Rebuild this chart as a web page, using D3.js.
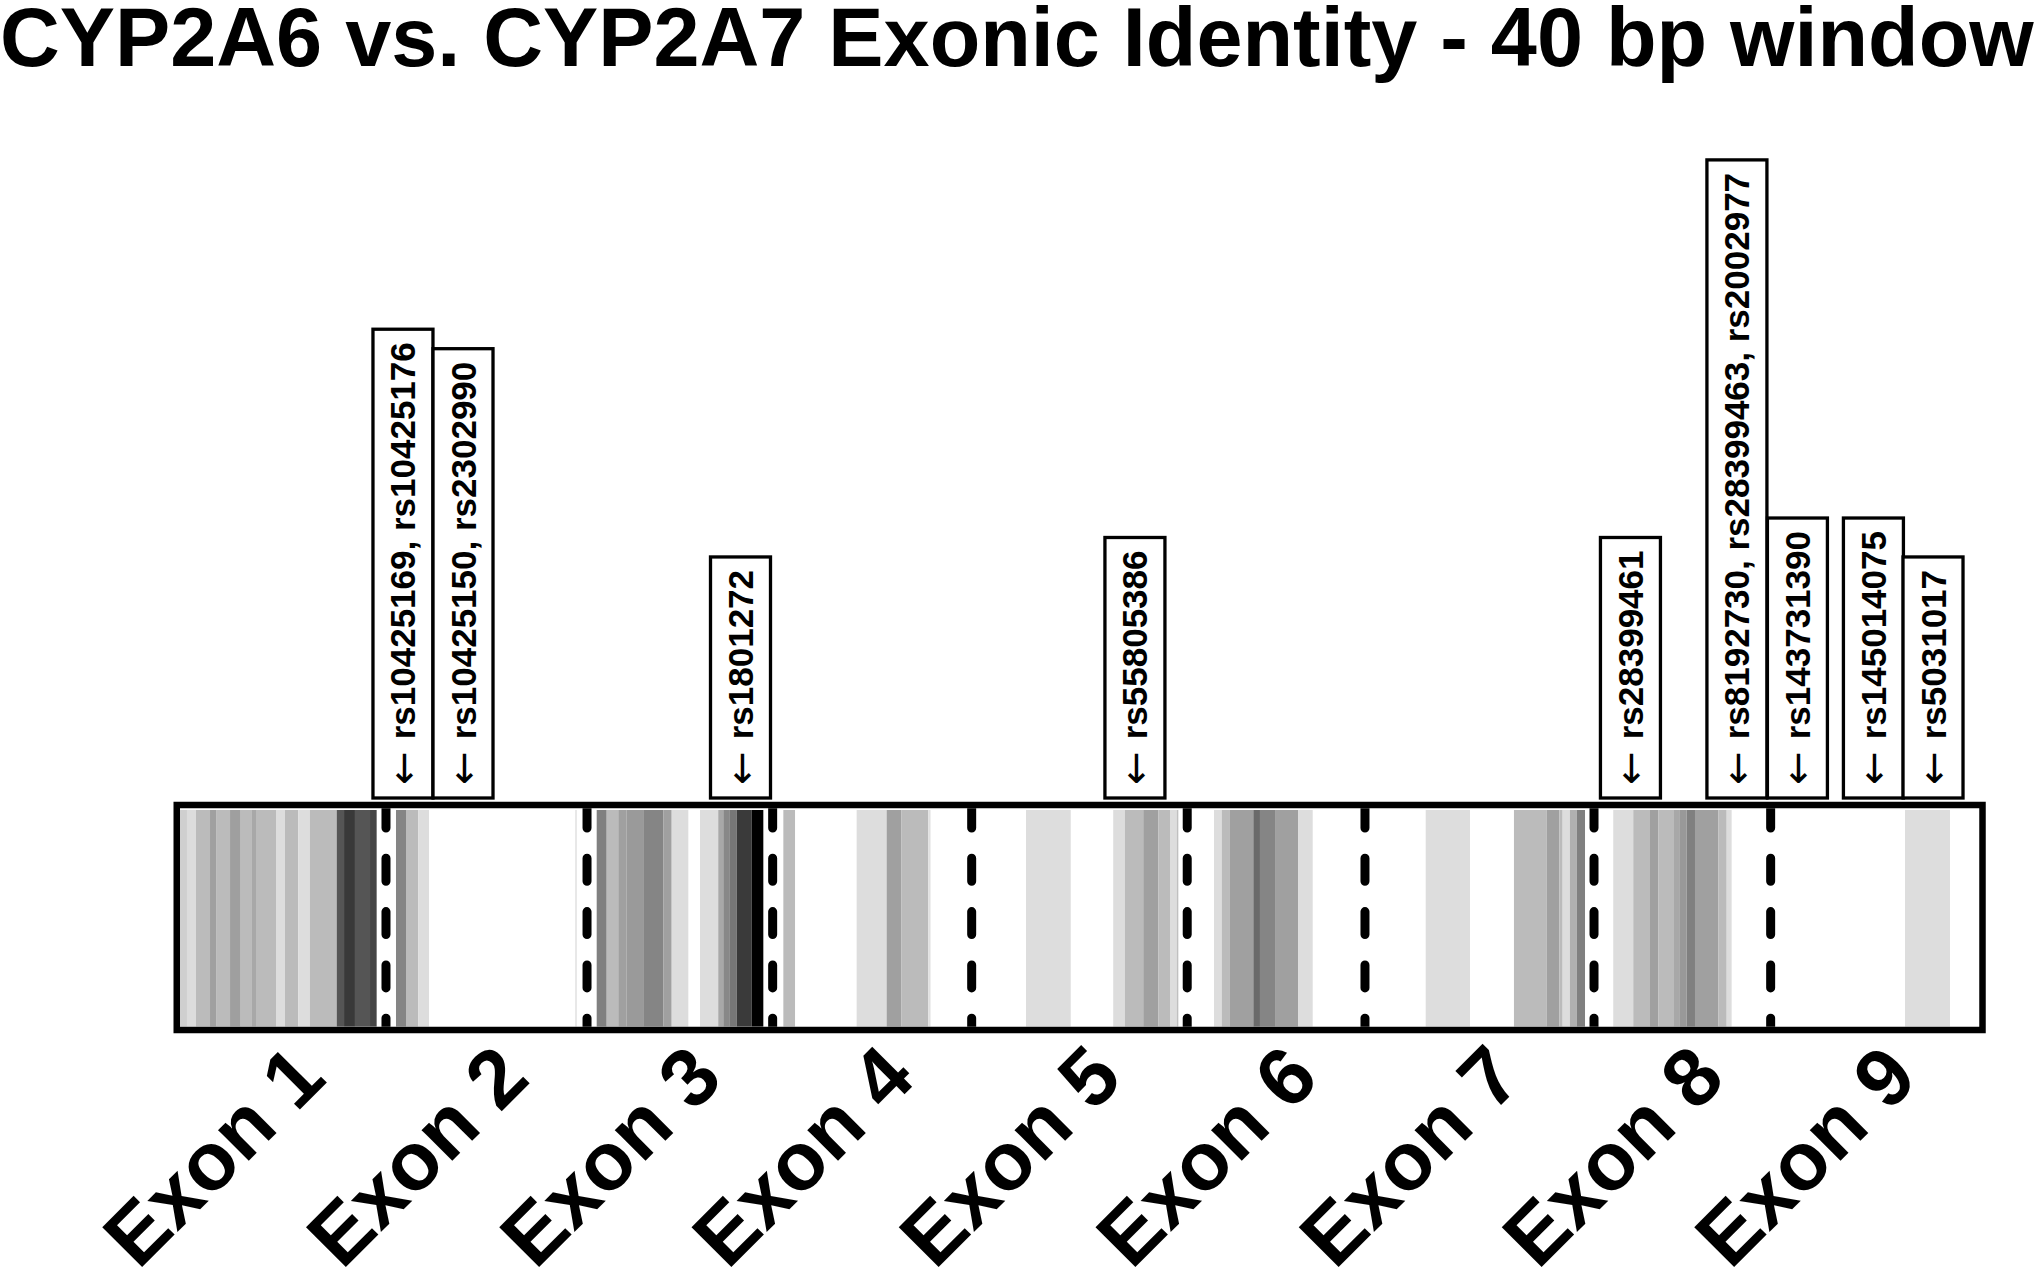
<!DOCTYPE html>
<html><head><meta charset="utf-8">
<script src="https://cdn.jsdelivr.net/npm/d3@7"></script>
<style>body{margin:0;background:#fff}svg{display:block}</style>
</head><body>
<script>
// ---------------- data ----------------
const titleText = "CYP2A6 vs. CYP2A7 Exonic Identity - 40 bp window";
const exonNames = ["Exon 1","Exon 2","Exon 3","Exon 4","Exon 5","Exon 6","Exon 7","Exon 8","Exon 9"];
// exon boundaries along concatenated exonic sequence (bp)
const exonBoundaries = [0, 183.2, 362.0, 527.1, 704.1, 895.8, 1053.9, 1257.6, 1414.7, 1600];
// 40 bp window shading segments (bp) and grey level (0 = black, 255 = white)
const bandStart = [0,6.2,14.2,26.7,32.6,44.5,54.0,64.0,67.6,85.4,93.4,105.2,115.6,139.4,145.9,155.6,169.0,
  192.1,201.0,211.9,351.3,
  370.6,379.5,389.8,397.3,412.0,429.8,437.3,462.5,478.7,483.2,488.5,495.1,508.4,
  536.6,601.8,628.5,641.7,665.4,
  752.4,830.0,840.4,856.7,870.1,880.5,886.4,
  919.6,926.5,933.8,954.6,960.5,973.9,994.6,
  1107.9,1186.4,1215.5,1226.7,1229.7,1236.2,1242.2,
  1274.7,1292.5,1307.4,1314.7,1328.1,1334.0,1340.0,1347.4,1368.1,1375.6,
  1534.2];
const bandEnd = [6.2,14.2,26.7,32.6,44.5,54.0,64.0,67.6,85.4,93.4,105.2,115.6,139.4,145.9,155.6,169.0,174.9,
  201.0,211.9,221.5,353.1,
  379.5,389.8,397.3,412.0,429.8,437.3,452.1,478.7,483.2,488.5,495.1,508.4,518.8,
  547.0,628.5,641.7,665.4,667.5,
  792.2,840.4,856.7,870.1,880.5,886.4,887.9,
  926.5,933.8,954.6,960.5,973.9,994.6,1007.4,
  1147.3,1215.5,1226.7,1229.7,1236.2,1242.2,1249.6,
  1292.5,1307.4,1314.7,1328.1,1334.0,1340.0,1347.4,1368.1,1375.6,1380.0,
  1574.2];
const bandGrey = [207,220,187,160,187,159,187,168,187,221,187,221,187,85,57,85,69,
  133,187,221,232,
  128,187,160,154,133,160,221,221,168,136,119,58,0,
  187,221,160,187,224,
  221,221,187,160,187,221,192,
  221,187,160,106,133,160,221,
  221,187,160,187,221,176,128,
  221,187,160,187,168,153,128,160,187,221,
  221];
// SNP annotation positions (bp) and labels
const snpPos = [198.3, 251.7, 498.5, 849.3, 1290.0, 1384.7, 1438.5, 1506.1, 1559.1];
const snpLabels = [
  "rs10425169, rs10425176",
  "rs10425150, rs2302990",
  "rs1801272",
  "rs55805386",
  "rs28399461",
  "rs8192730, rs28399463, rs2002977",
  "rs143731390",
  "rs145014075",
  "rs5031017"];
const arrowGlyph = "\u2190";

// ---------------- drawing ----------------
const W = 2040, H = 1276;
const FONT = "'Liberation Sans', Arial, Helvetica, sans-serif";
const svg = d3.select("body").append("svg").attr("width", W).attr("height", H)
  .style("font-family", FONT);

const x = d3.scaleLinear().domain([0, 1600]).range([180, 1979]);
const innerTop = 808.25, innerBot = 1026.75;

svg.append("defs").append("clipPath").attr("id", "inner")
  .append("rect").attr("x", x(0)).attr("y", innerTop)
  .attr("width", x(1600) - x(0)).attr("height", innerBot - innerTop);

// title
svg.append("text").attr("x", 0).attr("y", 66)
  .attr("font-size", 82.8).attr("font-weight", "bold").attr("fill", "#000")
  .text(titleText);

// bands
const bands = bandStart.map((s, i) => ({s, e: bandEnd[i], g: bandGrey[i]}));
svg.append("g").attr("clip-path", "url(#inner)")
  .selectAll("rect").data(bands).join("rect")
  .attr("x", d => x(d.s)).attr("width", d => x(d.e) - x(d.s))
  .attr("y", 810).attr("height", innerBot - 810)
  .attr("fill", d => d3.rgb(d.g, d.g, d.g).toString());

// dashed exon boundaries
svg.append("g").attr("clip-path", "url(#inner)")
  .selectAll("line").data(exonBoundaries.slice(1, -1)).join("line")
  .attr("x1", d => x(d)).attr("x2", d => x(d))
  .attr("y1", 805).attr("y2", 1040)
  .attr("stroke", "#000").attr("stroke-width", 9)
  .attr("stroke-linecap", "round").attr("stroke-dasharray", "23 30.3");

// strip border
svg.append("rect").attr("x", 176.75).attr("y", 805)
  .attr("width", 1982.5 - 176.75).attr("height", 225)
  .attr("fill", "none").attr("stroke", "#000").attr("stroke-width", 6.5);

// exon axis labels
const centers = exonNames.map((n, i) => (exonBoundaries[i] + exonBoundaries[i + 1]) / 2);
const axis = d3.axisBottom(x).tickValues(centers).tickFormat((d, i) => exonNames[i]).tickSize(0);
const ag = svg.append("g").attr("transform", "translate(0,1038)").call(axis);
ag.select(".domain").remove();
ag.selectAll("text")
  .attr("x", 0).attr("y", 0).attr("dy", 0)
  .attr("transform", "translate(45,43) rotate(-45)")
  .style("text-anchor", "end")
  .attr("font-size", 82).attr("font-weight", "bold")
  .attr("font-family", FONT).attr("fill", "#000");

// SNP boxes
const boxW = 60, boxBottom = 798, pad = 13, arrowSlot = 45.7;
const sg = svg.append("g").selectAll("g").data(snpLabels).join("g")
  .attr("transform", (d, i) => `translate(${x(snpPos[i])},${boxBottom})`);
const rects = sg.append("rect").attr("x", -boxW / 2).attr("width", boxW)
  .attr("fill", "#fff").attr("stroke", "#000").attr("stroke-width", 3.3);
const texts = sg.append("text")
  .attr("transform", `translate(0,${-pad}) rotate(-90)`)
  .attr("font-size", 35).attr("font-weight", "bold").attr("fill", "#000");
const arrows = texts.append("tspan").attr("font-family", "'DejaVu Sans', sans-serif")
  .attr("font-weight", "normal").attr("font-size", 40)
  .attr("x", 0).attr("dominant-baseline", "central").text(arrowGlyph);
const labs = texts.append("tspan").attr("x", arrowSlot).attr("dominant-baseline", "central").text(d => d);
labs.each(function(d, i) {
  const len = this.getComputedTextLength();
  const h = len + arrowSlot + 2 * pad;
  d3.select(rects.nodes()[i]).attr("y", -h).attr("height", h);
});
</script>
</body></html>
